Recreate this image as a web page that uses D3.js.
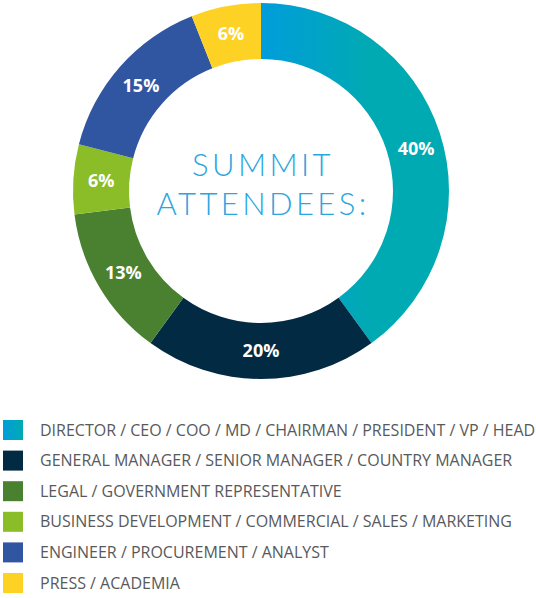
<!DOCTYPE html>
<html>
<head>
<meta charset="utf-8">
<script src="https://cdn.jsdelivr.net/npm/d3@7"></script>
<style>
  body { margin: 0; background: #fff; }
  svg { display: block; }
</style>
</head>
<body>
<div id="chart"></div>
<script>
// data
const categories = [
  "DIRECTOR / CEO / COO / MD / CHAIRMAN / PRESIDENT / VP / HEAD",
  "GENERAL MANAGER / SENIOR MANAGER / COUNTRY MANAGER",
  "LEGAL / GOVERNMENT REPRESENTATIVE",
  "BUSINESS DEVELOPMENT / COMMERCIAL / SALES / MARKETING",
  "ENGINEER / PROCUREMENT / ANALYST",
  "PRESS / ACADEMIA"
];
const values = [40, 20, 13, 6, 15, 6];
const colors = ["url(#grad40)", "#022a42", "#4a8131", "#8abd28", "#3156a1", "#fed224"];
const centerTitle = ["SUMMIT", "ATTENDEES:"];

const width = 536, height = 598;
const cx = 261, cy = 191;
const outerR = 188, innerR = 132;

const svg = d3.select("#chart").append("svg")
  .attr("width", width)
  .attr("height", height);

//gradient for the big slice (blue -> teal, left to right)
const defs = svg.append("defs");
const grad = defs.append("linearGradient")
  .attr("id", "grad40")
  .attr("gradientUnits", "userSpaceOnUse")
  .attr("x1", 0).attr("y1", 0)
  .attr("x2", 110).attr("y2", 0);
grad.append("stop").attr("offset", "0%").attr("stop-color", "#009ddb");
grad.append("stop").attr("offset", "100%").attr("stop-color", "#00aab2");

const swatchGrad = defs.append("linearGradient")
  .attr("id", "gradSwatch")
  .attr("x1", "0%").attr("x2", "100%");
swatchGrad.append("stop").attr("offset", "0%").attr("stop-color", "#009ddb");
swatchGrad.append("stop").attr("offset", "100%").attr("stop-color", "#00aab2");

//donut
const pie = d3.pie().sort(null).value(d => d);
const arc = d3.arc().innerRadius(innerR).outerRadius(outerR);

const g = svg.append("g").attr("transform", `translate(${cx},${cy})`);

g.selectAll("path")
  .data(pie(values))
  .enter()
  .append("path")
  .attr("d", arc)
  .attr("fill", (d, i) => colors[i]);

// percentage labels (the big one sits a little lower in the original)
const nudge = (i) => i === 0 ? [3, 7] : [0, 0];
g.selectAll("text.pct")
  .data(pie(values))
  .enter()
  .append("text")
  .attr("class", "pct")
  .attr("transform", (d, i) => {
    let c = arc.centroid(d), n = nudge(i);
    return `translate(${c[0] + n[0]},${c[1] + n[1]})`;
  })
  .attr("dy", "0.36em")
  .style("text-anchor", "middle")
  .style("font-family", "'Open Sans', sans-serif")
  .style("font-weight", 700)
  .style("font-size", "18px")
  .style("fill", "#fff")
  .text(d => d.data + "%");

// center title
g.selectAll("text.title")
  .data(centerTitle)
  .enter()
  .append("text")
  .attr("class", "title")
  .attr("x", 2)
  .attr("y", (d, i) => -15 + i * 39)
  .style("text-anchor", "middle")
  .style("font-family", "Lato, sans-serif")
  .style("font-weight", 300)
  .style("font-size", "31px")
  .style("letter-spacing", "3.4px")
  .style("fill", "#2aa6df")
  .text(d => d);

//legend
const legend = svg.append("g").attr("transform", "translate(3,420)");
const rows = legend.selectAll("g")
  .data(categories)
  .enter()
  .append("g")
  .attr("transform", (d, i) => `translate(0,${i * 30.6})`);

rows.append("rect")
  .attr("width", 20)
  .attr("height", 20)
  .attr("fill", (d, i) => i === 0 ? "url(#gradSwatch)" : colors[i]);

rows.append("text")
  .attr("x", 37)
  .attr("y", 15.5)
  .style("font-family", "'Open Sans', sans-serif")
  .style("font-size", "16px")
  .style("fill", "#58595b")
  .text(d => d);
</script>
</body>
</html>
